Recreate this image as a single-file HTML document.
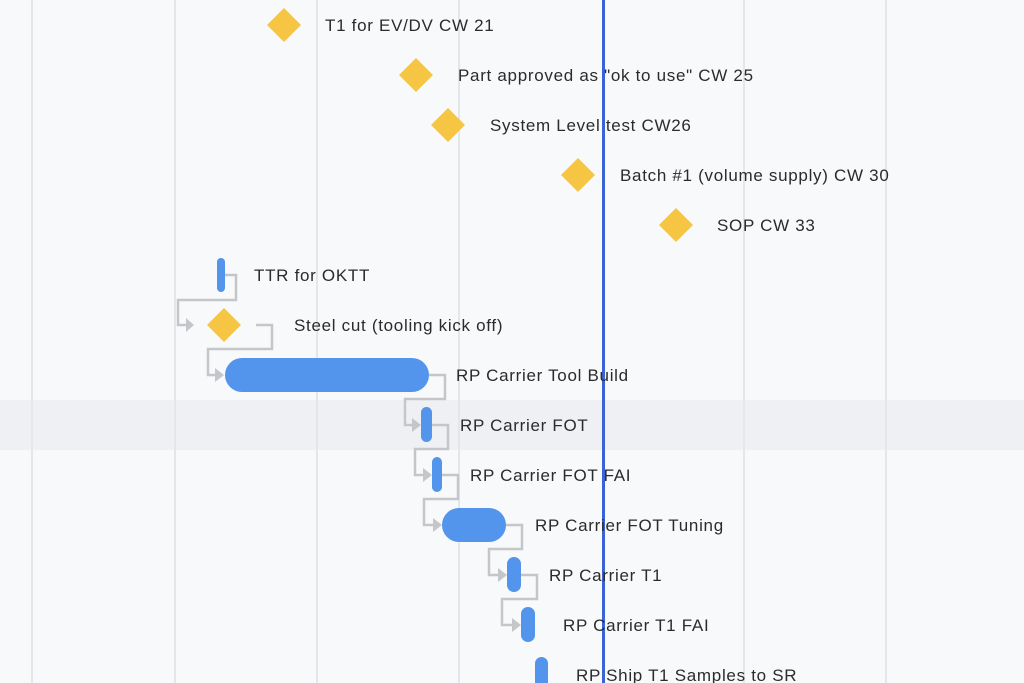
<!DOCTYPE html>
<html><head><style>body{margin:0;background:#f8f9fb}svg{display:block}</style></head><body>
<svg width="1024" height="683" xmlns="http://www.w3.org/2000/svg" font-family="Liberation Sans, sans-serif" font-size="17" letter-spacing="0.7" fill="#2b2b2b">
<rect width="1024" height="683" fill="#f8f9fb"/>
<rect y="400" width="1024" height="50" fill="#eff0f3"/>
<g stroke="#e4e6ea" stroke-width="2">
<line x1="32" y1="0" x2="32" y2="683"/><line x1="175" y1="0" x2="175" y2="683"/><line x1="317" y1="0" x2="317" y2="683"/><line x1="459" y1="0" x2="459" y2="683"/><line x1="744" y1="0" x2="744" y2="683"/><line x1="886" y1="0" x2="886" y2="683"/>
</g>
<g fill="none" stroke="#c4c6ca" stroke-width="2.5">
<polyline points="225,275 236,275 236,300 178,300 178,325 188,325"/>
<polyline points="256,325 272,325 272,349 208,349 208,375 216,375"/>
<polyline points="429,375 445,375 445,399 405,399 405,425 413,425"/>
<polyline points="432,425 448,425 448,449 415,449 415,475 424,475"/>
<polyline points="442,475 458,475 458,499 424,499 424,525 434,525"/>
<polyline points="506,525 522,525 522,549 489,549 489,575 499,575"/>
<polyline points="521,575 537,575 537,599 502,599 502,625 513,625"/>
</g>
<g fill="#c4c6ca">
<polygon points="186,318 194,325 186,332"/><polygon points="215,368 224,375 215,382"/><polygon points="412,418 421,425 412,432"/><polygon points="423,468 432,475 423,482"/><polygon points="433,518 442,525 433,532"/><polygon points="498,568 507,575 498,582"/><polygon points="512,618 521,625 512,632"/>
</g>
<g fill="#f6c544">
<polygon points="284,8 301,25 284,42 267,25"/><polygon points="416,58 433,75 416,92 399,75"/><polygon points="448,108 465,125 448,142 431,125"/><polygon points="578,158 595,175 578,192 561,175"/><polygon points="676,208 693,225 676,242 659,225"/><polygon points="224,308 241,325 224,342 207,325"/>
</g>
<g fill="#5394ec">
<rect x="217" y="258" width="8" height="34" rx="4"/>
<rect x="225" y="358" width="204" height="34" rx="17"/>
<rect x="421" y="407" width="11" height="35" rx="5.5"/>
<rect x="432" y="457" width="10" height="35" rx="5"/>
<rect x="442" y="508" width="64" height="34" rx="17"/>
<rect x="507" y="557" width="14" height="35" rx="7"/>
<rect x="521" y="607" width="14" height="35" rx="7"/>
<rect x="535" y="657" width="13" height="40" rx="6.5"/>
</g>
<rect x="602" y="0" width="3" height="683" fill="#3a63d6"/>
<g>
<text x="325" y="31">T1 for EV/DV CW 21</text>
<text x="458" y="81">Part approved as "ok to use" CW 25</text>
<text x="490" y="131">System Level test CW26</text>
<text x="620" y="181">Batch #1 (volume supply) CW 30</text>
<text x="717" y="231">SOP CW 33</text>
<text x="254" y="281">TTR for OKTT</text>
<text x="294" y="331">Steel cut (tooling kick off)</text>
<text x="456" y="381">RP Carrier Tool Build</text>
<text x="460" y="431">RP Carrier FOT</text>
<text x="470" y="481">RP Carrier FOT FAI</text>
<text x="535" y="531">RP Carrier FOT Tuning</text>
<text x="549" y="581">RP Carrier T1</text>
<text x="563" y="631">RP Carrier T1 FAI</text>
<text x="576" y="681">RP Ship T1 Samples to SR</text>
</g>
</svg>
</body></html>
